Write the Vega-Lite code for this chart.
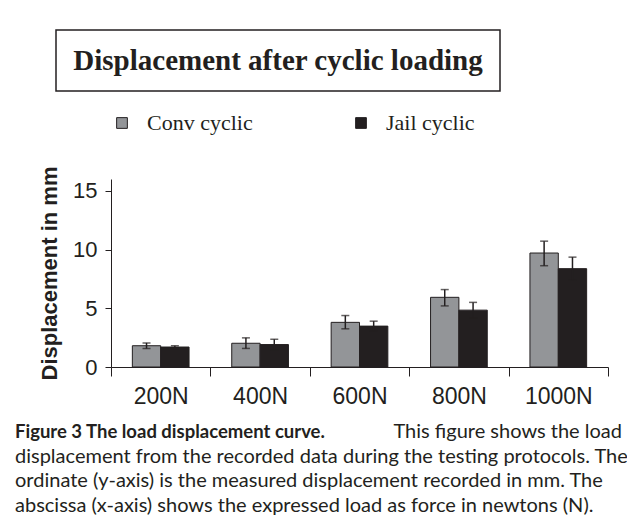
{
  "$schema": "https://vega.github.io/schema/vega-lite/v6.json",
  "padding": {"left": 15, "top": 29, "right": 0, "bottom": 0},
  "background": "white",
  "config": {"view": {"stroke": null}, "font": "Liberation Sans"},
  "datasets": {
    "bars": [
      {"load": "200N", "series": "Conv cyclic", "value": 1.81, "lower": 1.57, "upper": 2.05},
      {"load": "200N", "series": "Jail cyclic", "value": 1.70, "lower": 1.59, "upper": 1.81},
      {"load": "400N", "series": "Conv cyclic", "value": 2.02, "lower": 1.58, "upper": 2.48},
      {"load": "400N", "series": "Jail cyclic", "value": 1.91, "lower": 1.46, "upper": 2.36},
      {"load": "600N", "series": "Conv cyclic", "value": 3.80, "lower": 3.25, "upper": 4.38},
      {"load": "600N", "series": "Jail cyclic", "value": 3.48, "lower": 3.06, "upper": 3.90},
      {"load": "800N", "series": "Conv cyclic", "value": 5.93, "lower": 5.20, "upper": 6.59},
      {"load": "800N", "series": "Jail cyclic", "value": 4.84, "lower": 4.18, "upper": 5.50},
      {"load": "1000N", "series": "Conv cyclic", "value": 9.70, "lower": 8.62, "upper": 10.71},
      {"load": "1000N", "series": "Jail cyclic", "value": 8.37, "lower": 7.39, "upper": 9.35}
    ],
    "heading": [{"heading": "Displacement after cyclic loading"}],
    "caption": [
      {"line": 1, "part": "bold", "text": "Figure 3 The load displacement curve."},
      {"line": 1, "part": "lead", "text": "This figure shows the load"},
      {"line": 2, "part": "body", "text": "displacement from the recorded data during the testing protocols. The"},
      {"line": 3, "part": "body", "text": "ordinate (y-axis) is the measured displacement recorded in mm. The"},
      {"line": 4, "part": "body", "text": "abscissa (x-axis) shows the expressed load as force in newtons (N)."}
    ]
  },
  "resolve": {"scale": {"color": "independent"}, "legend": {"color": "independent"}},
  "spacing": 14,
  "vconcat": [
    {
      "resolve": {"scale": {"color": "independent"}, "legend": {"color": "independent"}},
      "spacing": 20,
      "vconcat": [
        {
          "spacing": 0,
          "hconcat": [
            {"width": 40, "height": 1, "data": {"values": []}, "mark": "rect"},
            {
              "width": 444,
              "height": 61,
              "view": {"stroke": "#231f20", "strokeWidth": 1.5},
              "data": {"name": "heading"},
              "mark": {"type": "text", "font": "Liberation Serif", "fontWeight": "bold", "fontSize": 29, "color": "#231f20", "align": "center", "baseline": "middle"},
              "encoding": {"text": {"field": "heading"}}
            }
          ]
        },
        {
          "spacing": 0,
          "resolve": {"scale": {"color": "independent"}, "legend": {"color": "independent"}},
          "hconcat": [
            {"width": 23, "height": 1, "data": {"values": []}, "mark": "rect"},
            {
              "width": 497,
              "height": 188,
              "data": {"name": "bars"},
              "encoding": {
                "x": {
                  "field": "load", "type": "nominal",
                  "sort": ["200N", "400N", "600N", "800N", "1000N"],
                  "scale": {"paddingInner": 0, "paddingOuter": 0},
                  "axis": {"title": null, "labelAngle": 0, "tickBand": "extent", "tickSize": 9, "labelFontSize": 23, "labelPadding": 9, "labelColor": "#231f20", "domainColor": "#231f20", "tickColor": "#231f20", "labelFont": "Liberation Sans"}
                },
                "xOffset": {
                  "field": "series", "type": "nominal",
                  "sort": ["Conv cyclic", "Jail cyclic"],
                  "scale": {"paddingInner": 0, "paddingOuter": 0.753}
                }
              },
              "layer": [
                {
                  "mark": {"type": "bar", "stroke": "#231f20", "strokeWidth": 1},
                  "encoding": {
                    "y": {
                      "field": "value", "type": "quantitative",
                      "scale": {"domain": [0, 15]},
                      "axis": {"title": "Displacement in mm", "titleFont": "Liberation Sans", "titleFontWeight": "bold", "titleFontSize": 22, "titleColor": "#231f20", "titlePadding": 11, "values": [0, 5, 10, 15], "grid": false, "tickSize": 6, "labelFontSize": 22, "labelPadding": 8, "labelColor": "#231f20", "domainColor": "#231f20", "tickColor": "#231f20"}
                    },
                    "color": {
                      "field": "series", "type": "nominal",
                      "scale": {"domain": ["Conv cyclic", "Jail cyclic"], "range": ["#939598", "#231f20"]},
                      "legend": {"title": null, "orient": "top", "direction": "horizontal", "symbolType": "square", "symbolSize": 115, "symbolStrokeColor": "#231f20", "symbolStrokeWidth": 1, "labelFont": "Liberation Serif", "labelFontSize": 22, "labelColor": "#231f20", "labelOffset": 14, "columnPadding": 97, "offset": 45, "padding": 0}
                    }
                  }
                },
                {
                  "mark": {"type": "rule", "color": "#231f20", "strokeWidth": 1.5},
                  "encoding": {
                    "y": {"field": "lower", "type": "quantitative", "title": "Displacement in mm"},
                    "y2": {"field": "upper"}
                  }
                },
                {
                  "mark": {"type": "tick", "color": "#231f20", "thickness": 1.5, "size": 8, "orient": "horizontal"},
                  "encoding": {"y": {"field": "upper", "type": "quantitative", "title": "Displacement in mm"}}
                },
                {
                  "mark": {"type": "tick", "color": "#231f20", "thickness": 1.5, "size": 8, "orient": "horizontal"},
                  "encoding": {"y": {"field": "lower", "type": "quantitative", "title": "Displacement in mm"}}
                }
              ]
            }
          ]
        }
      ]
    },
    {
      "width": 607,
      "height": 74,
      "data": {"name": "caption"},
      "encoding": {
        "y": {"field": "line", "type": "ordinal", "axis": null, "scale": {"type": "point", "padding": 0}}
      },
      "layer": [
        {
          "transform": [{"filter": {"field": "part", "equal": "bold"}}],
          "mark": {"type": "text", "font": "Lato", "fontWeight": "bold", "fontSize": 18.5, "align": "left", "baseline": "alphabetic", "color": "#231f20"},
          "encoding": {
            "x": {"datum": 0, "type": "quantitative", "scale": {"domain": [0, 1]}, "axis": null},
            "text": {"field": "text"}
          }
        },
        {
          "transform": [{"filter": {"field": "part", "equal": "lead"}}],
          "mark": {"type": "text", "font": "Lato", "fontSize": 20, "align": "right", "baseline": "alphabetic", "color": "#231f20"},
          "encoding": {
            "x": {"datum": 1, "type": "quantitative"},
            "text": {"field": "text"}
          }
        },
        {
          "transform": [{"filter": {"field": "part", "equal": "body"}}],
          "mark": {"type": "text", "font": "Lato", "fontSize": 20, "align": "left", "baseline": "alphabetic", "color": "#231f20"},
          "encoding": {
            "x": {"datum": 0, "type": "quantitative"},
            "text": {"field": "text"}
          }
        }
      ]
    }
  ]
}
